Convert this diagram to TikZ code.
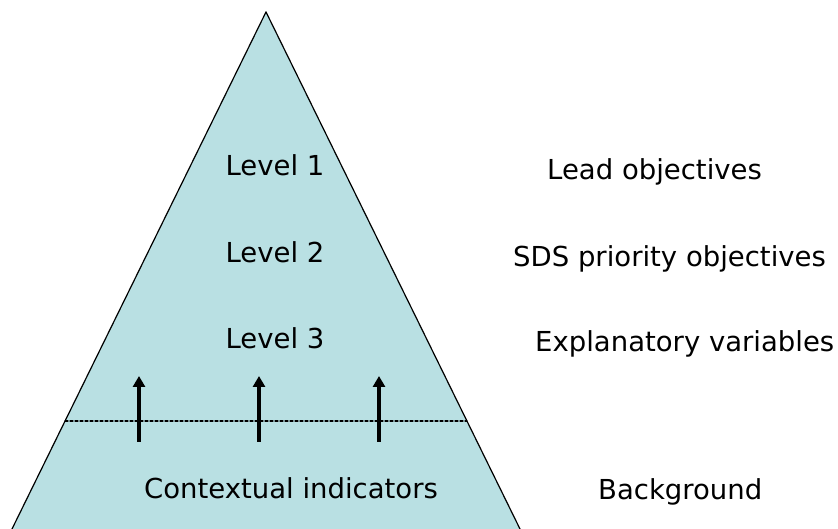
\documentclass[tikz,border=0pt]{standalone}
\usepackage{fontspec}
\setmainfont{DejaVu Sans}
\usepackage{tkz-euclide}
\usetikzlibrary{arrows.meta}
\definecolor{pyramid}{RGB}{185,224,227}

\begin{document}
\begin{tikzpicture}[x=1pt, y=1pt,
    lbl/.style = {inner sep=0pt, anchor=base, font=\fontsize{27.5}{32}\selectfont},
    side/.style = {lbl, anchor=base west},
    up/.style = {line width=3.5pt, -{Triangle[length=11pt, width=12pt]}}]
    \useasboundingbox (0,0) rectangle (838,529);
    \tkzDefPoints{266/517/A, 12/0/B, 520/0/C}
    \tkzDefPoints{65/108/D, 467/108/E}
    \tkzFillPolygon[fill=pyramid](A,B,C)
    \tkzDrawSegments[line width=1.2pt](B,A A,C)
    \tkzDrawSegment[dashed, line width=1.1pt, dash pattern=on 3pt off 2pt](D,E)
    % arrows from the context layer
    \tkzDefPoints{139/87/P1, 139/153/Q1, 259/87/P2, 259/153/Q2, 379/87/P3, 379/153/Q3}
    \draw[up] (P1) -- (Q1);
    \draw[up] (P2) -- (Q2);
    \draw[up] (P3) -- (Q3);
    % levels
    \node[lbl] (lvl1) at (275,353) {Level 1};
    \node[lbl] (lvl2) at (275,266) {Level 2};
    \node[lbl] (lvl3) at (275,180) {Level 3};
    \node[lbl] (ctx) at (291,30) {Contextual indicators};
    \node[side] (lead) at (547,349) {Lead objectives};
    \node[side] (sds) at (513,262) {SDS priority objectives};
    \node[side] (expl) at (535,177) {Explanatory variables};
    \node[side] (bgd) at (598,29) {Background};
\end{tikzpicture}
\end{document}
